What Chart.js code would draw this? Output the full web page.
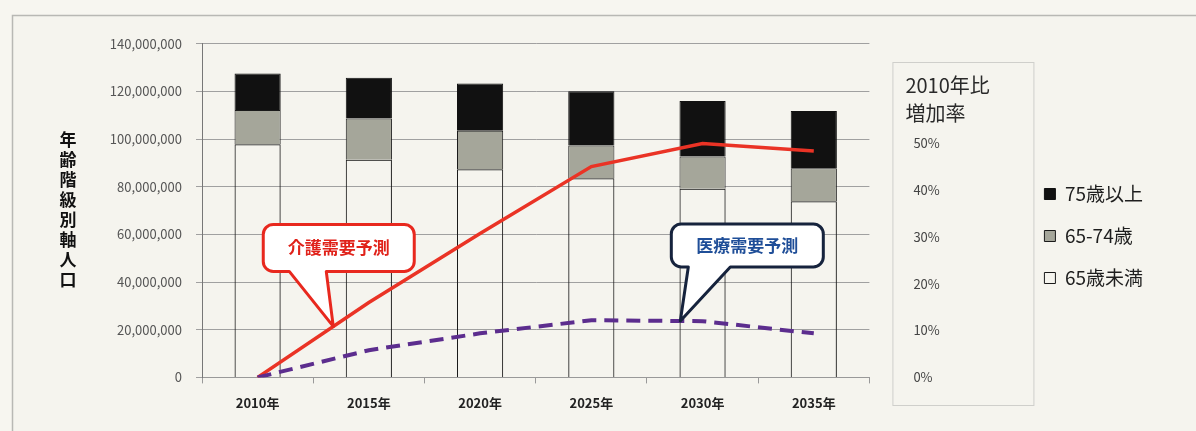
<!DOCTYPE html>
<html>
<head>
<meta charset="utf-8">
<script src="https://cdn.jsdelivr.net/npm/chart.js@4"></script>
<style>
  html, body { margin: 0; padding: 0; background: #f7f6f0; }
  #wrap { width: 1196px; height: 431px; position: relative; }
</style>
</head>
<body>
<div id="wrap"><canvas id="myChart" width="1196" height="431"></canvas></div>
<script>
const years = ['2010年', '2015年', '2020年', '2025年', '2030年', '2035年'];
const under65 = [97800000, 91300000, 87400000, 83600000, 79200000, 73900000];
const age65to74 = [14400000, 17400000, 16100000, 13700000, 13500000, 13900000];
const age75plus = [15300000, 17100000, 19800000, 22800000, 23300000, 24000000];
const kaigoRate = [0, 0.16, 0.307, 0.45, 0.499, 0.483];
const iryoRate = [0, 0.058, 0.094, 0.122, 0.12, 0.094];
const leftTicks = [0, 20000000, 40000000, 60000000, 80000000, 100000000, 120000000, 140000000];
const rightTicks = [0, 0.1, 0.2, 0.3, 0.4, 0.5];
const yTitle = '年齢階級別軸人口';

const FONT = "'Noto Sans CJK JP', 'DejaVu Sans', sans-serif";

// frame, right-axis box, axis title, callouts
const decor = {
  id: 'decor',
  afterLayout(chart) {
    // legend sits a little lower in the original
    chart.legend.top += 4;
    chart.legend.bottom += 4;
  },
  beforeDraw(chart) {
    const c = chart.ctx;
    c.save();
    c.fillStyle = '#f5f4ee';
    c.fillRect(12, 15, chart.width, chart.height);
    c.strokeStyle = '#b8b8b4';
    c.lineWidth = 1.5;
    c.beginPath();
    c.moveTo(12.5, chart.height);
    c.lineTo(12.5, 15.5);
    c.lineTo(chart.width, 15.5);
    c.stroke();
    // box round the right axis
    const y1 = chart.scales.y1;
    c.strokeStyle = '#cfcfcb';
    c.lineWidth = 1;
    c.strokeRect(y1.left + 23.5, 62.5, 141, 343);
    c.fillStyle = '#2a2a2a';
    c.font = '20px ' + FONT;
    c.textBaseline = 'middle';
    c.fillText('2010年比', y1.left + 36, 85);
    c.fillText('増加率', y1.left + 36, 113);
    // vertical y title
    c.font = 'bold 17px ' + FONT;
    c.textAlign = 'center';
    c.fillStyle = '#111';
    for (let i = 0; i < yTitle.length; i++) {
      c.fillText(yTitle[i], 68, 140 + i * 20);
    }
    c.restore();
  },
  afterDatasetsDraw(chart) {
    const c = chart.ctx;
    const pt = (dsIndex, i, t) => {
      const pts = chart.getDatasetMeta(dsIndex).data;
      return {
        x: pts[i].x + (pts[i + 1].x - pts[i].x) * t,
        y: pts[i].y + (pts[i + 1].y - pts[i].y) * t
      };
    };
    const callout = (tip, bx, by, bw, bh, t1, t2, stroke, color, text) => {
      c.save();
      c.lineJoin = 'round';
      c.lineWidth = 3;
      c.strokeStyle = stroke;
      c.fillStyle = '#ffffff';
      const r = 10;
      c.beginPath();
      c.moveTo(bx + r, by);
      c.lineTo(bx + bw - r, by);
      c.arcTo(bx + bw, by, bx + bw, by + r, r);
      c.lineTo(bx + bw, by + bh - r);
      c.arcTo(bx + bw, by + bh, bx + bw - r, by + bh, r);
      c.lineTo(t2, by + bh);
      c.lineTo(tip.x, tip.y);
      c.lineTo(t1, by + bh);
      c.lineTo(bx + r, by + bh);
      c.arcTo(bx, by + bh, bx, by + bh - r, r);
      c.lineTo(bx, by + r);
      c.arcTo(bx, by, bx + r, by, r);
      c.closePath();
      c.fill();
      c.stroke();
      c.fillStyle = color;
      c.font = 'bold 17px ' + FONT;
      c.textAlign = 'center';
      c.textBaseline = 'middle';
      c.fillText(text, bx + bw / 2, by + bh / 2);
      c.restore();
    };
    const a = pt(3, 0, 0.68);
    callout(a, a.x - 70, a.y - 102, 151, 47, a.x - 44, a.x - 7, '#e8281e', '#e0221a', '介護需要予測');
    const b = pt(4, 3, 0.8);
    callout(b, b.x - 9, b.y - 97, 152, 43, b.x + 8, b.x + 50, '#16233d', '#1f4e98', '医療需要予測');
  }
};

const ctx = document.getElementById('myChart');

new Chart(ctx, {
  type: 'bar',
  data: {
    labels: years,
    datasets: [
      { label: '65歳未満', data: under65, backgroundColor: 'rgba(255,255,255,0)', borderColor: '#1a1a1a', borderWidth: 1, yAxisID: 'y', order: 2 },
      { label: '65-74歳', data: age65to74, backgroundColor: '#a5a69a', borderColor: '#1a1a1a', borderWidth: 1, yAxisID: 'y', order: 2 },
      { label: '75歳以上', data: age75plus, backgroundColor: '#111111', borderColor: '#111111', borderWidth: 1, yAxisID: 'y', order: 2 },
      { type: 'line', label: '介護需要予測', data: kaigoRate, borderColor: '#ea3325', borderWidth: 3.5, pointRadius: 0, tension: 0, yAxisID: 'y1', order: 1 },
      { type: 'line', label: '医療需要予測', data: iryoRate, borderColor: '#5c2d8e', borderWidth: 4, borderDash: [14, 8], pointRadius: 0, tension: 0, yAxisID: 'y1', order: 0 }
    ]
  },
  options: {
    responsive: false,
    animation: false,
    layout: { padding: { left: 90, top: 41, right: 43, bottom: 8 } },
    datasets: { bar: { categoryPercentage: 1, barPercentage: 0.415 } },
    plugins: {
      legend: {
        position: 'right',
        reverse: true,
        labels: {
          filter: (item) => item.datasetIndex < 3,
          boxWidth: 11,
          boxHeight: 11,
          padding: 23,
          color: '#1e1e1e',
          font: { family: FONT, size: 19 }
        }
      },
      tooltip: { enabled: false }
    },
    scales: {
      x: {
        stacked: true,
        grid: { drawOnChartArea: false, tickLength: 6, color: '#999' },
        border: { color: '#999' },
        ticks: { padding: 12, color: '#222', font: { family: FONT, size: 13, weight: 'bold' } }
      },
      y: {
        stacked: true,
        min: 0,
        max: 140000000,
        afterBuildTicks: (s) => { s.ticks = leftTicks.map(v => ({ value: v })); },
        afterFit: (s) => { s.width = 112; },
        grid: { color: '#a0a0a0', tickLength: 6 },
        border: { color: '#777' },
        ticks: {
          padding: 14,
          color: '#555',
          font: { family: FONT, size: 13 },
          callback: (v) => v.toLocaleString('en-US')
        }
      },
      y1: {
        position: 'right',
        min: 0,
        max: 0.712,
        afterBuildTicks: (s) => { s.ticks = rightTicks.map(v => ({ value: v })); },
        afterFit: (s) => { s.width = 152; },
        grid: { display: false },
        border: { display: false },
        ticks: {
          padding: 36,
          color: '#444',
          font: { family: FONT, size: 13 },
          callback: (v) => Math.round(v * 100) + '%'
        }
      }
    }
  },
  plugins: [decor]
});
</script>
</body>
</html>
